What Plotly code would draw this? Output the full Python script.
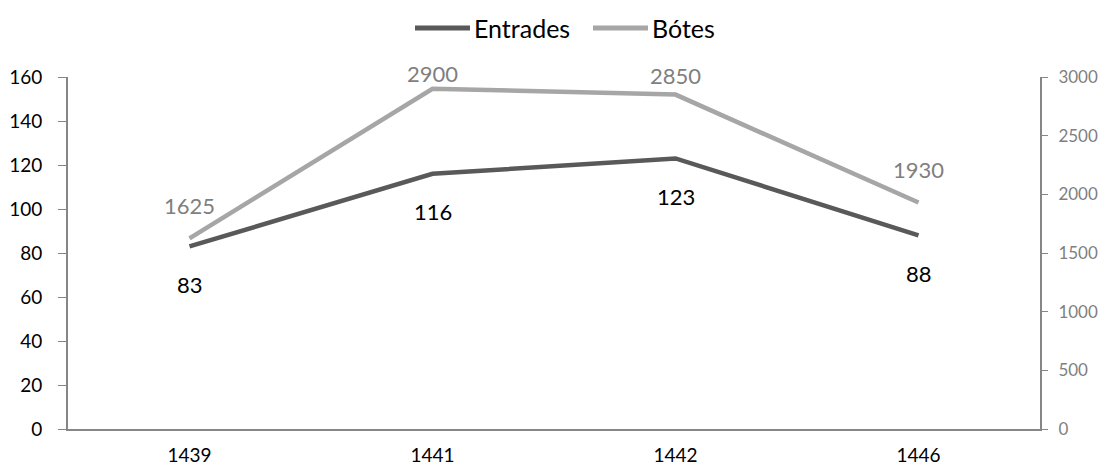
import plotly.graph_objects as go

years = ["1439", "1441", "1442", "1446"]
entrades = [83, 116, 123, 88]
botes = [1625, 2900, 2850, 1930]
series_names = ["Entrades", "Bótes"]
entrades_label_shift = [-38, -38, -38, -38]
botes_label_shift = [33, 15, 19, 33]

FONT = "Lato, 'Open Sans', sans-serif"
DARK = "#595959"
LIGHT = "#A6A6A6"
AXIS = "#868686"
LBLGREY = "#7F7F7F"

# page has an 8px body offset; size the figure so it fits the window
OFF = 8
W, H = 1112 - OFF, 467 - OFF
# plot area in page pixels
PX_L, PX_R, PX_T, PX_B = 68, 1040, 77, 429


def px_x(p):
    return (p - PX_L) / (PX_R - PX_L)


def px_y(p):
    return (PX_B - p) / (PX_B - PX_T)


fig = go.Figure()
fig.add_trace(go.Scatter(x=years, y=entrades, name=series_names[0], mode="lines",
                         line=dict(color=DARK, width=4.5), yaxis="y"))
fig.add_trace(go.Scatter(x=years, y=botes, name=series_names[1], mode="lines",
                         line=dict(color=LIGHT, width=4.5), yaxis="y2"))

for i, (v, s) in enumerate(zip(entrades, entrades_label_shift)):
    fig.add_annotation(x=i, xref="x", y=v, yref="y", text=str(v), showarrow=False,
                       yshift=s, font=dict(family=FONT, size=22, color="#000000"))
for i, (v, s) in enumerate(zip(botes, botes_label_shift)):
    fig.add_annotation(x=i, xref="x", y=v, yref="y2", text=str(v), showarrow=False,
                       yshift=s, font=dict(family=FONT, size=22, color=LBLGREY))

# custom legend (long line samples like the original)
legend_items = [(series_names[0], DARK, 415, 470, 472),
                (series_names[1], LIGHT, 593, 648, 650)]
ly = px_y(28)
for name, col, x0, x1, xt in legend_items:
    fig.add_shape(type="line", xref="paper", yref="paper",
                  x0=px_x(x0), x1=px_x(x1), y0=ly, y1=ly,
                  line=dict(color=col, width=5))
    fig.add_annotation(xref="paper", yref="paper", x=px_x(xt), y=ly, text=name,
                       showarrow=False, xanchor="left", yanchor="middle",
                       font=dict(family=FONT, size=25, color="#000000"))

fig.update_layout(
    width=W, height=H,
    margin=dict(l=PX_L - OFF, r=W - (PX_R - OFF), t=PX_T - OFF, b=H - (PX_B - OFF),
                autoexpand=False),
    paper_bgcolor="white", plot_bgcolor="white",
    font=dict(family=FONT, size=16, color="#000000"),
    showlegend=False,
    xaxis=dict(type="category", range=[-0.5, 3.5], showgrid=False, showline=True,
               linecolor=AXIS, linewidth=2, ticks="", zeroline=False,
               ticklabelstandoff=8,
               tickfont=dict(family=FONT, size=19, color="#000000")),
    yaxis=dict(range=[0, 160], dtick=20, showgrid=False, showline=True,
               linecolor=AXIS, linewidth=2, ticks="outside", ticklen=8,
               tickcolor=AXIS, zeroline=False, ticklabelstandoff=12,
               tickfont=dict(family=FONT, size=19, color="#000000")),
    yaxis2=dict(range=[0, 3000], dtick=500, overlaying="y", side="right",
                showgrid=False, showline=True, linecolor=AXIS, linewidth=2,
                ticks="outside", ticklen=6, tickcolor=AXIS, zeroline=False,
                ticklabelstandoff=7,
                tickfont=dict(family=FONT, size=17, color=LBLGREY)),
)

fig.write_html("out.html")
